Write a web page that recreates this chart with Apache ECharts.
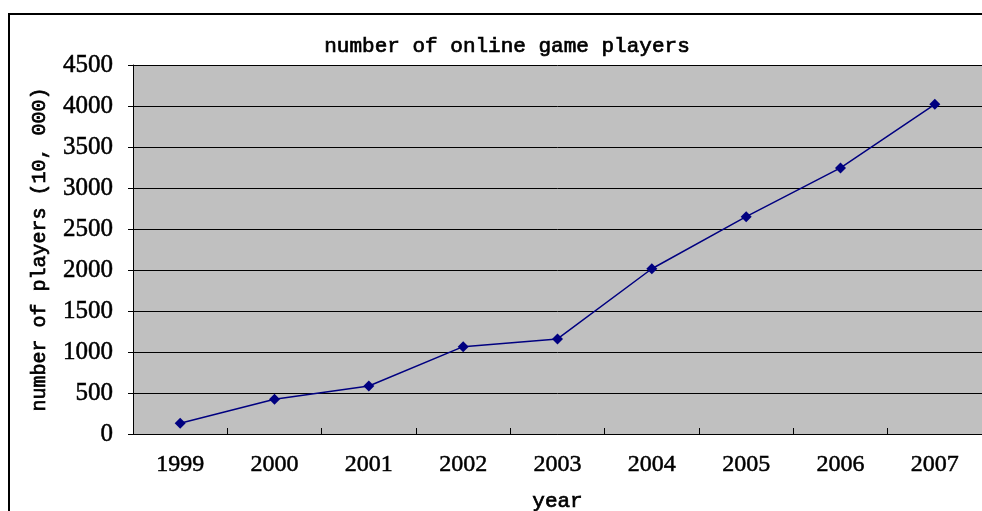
<!DOCTYPE html>
<html>
<head>
<meta charset="utf-8">
<script src="https://cdn.jsdelivr.net/npm/echarts@6/dist/echarts.min.js"></script>
<style>
  html, body { margin: 0; padding: 0; background: #ffffff; }
  #chart { width: 982px; height: 511px; }
</style>
</head>
<body>
<div id="chart"></div>
<script>
// Online game players in China, in units of 10,000 people
const years = ['1999', '2000', '2001', '2002', '2003', '2004', '2005', '2006', '2007'];
const players = [130, 425, 585, 1065, 1160, 2015, 2650, 3245, 4020];
const yTicks = { min: 0, max: 4500, step: 500 };

const chart = echarts.init(document.getElementById('chart'), null, { renderer: 'canvas' });

const monoFont = '"Liberation Mono", "DejaVu Sans Mono", monospace';
const digitFont = '"Liberation Serif", "DejaVu Serif", serif';

// slightly thickened text strokes
const monoText = {
  fontFamily: monoFont, fontWeight: 'normal', color: '#000',
  textBorderColor: '#000', textBorderWidth: 0.7
};
const digitText = {
  fontFamily: digitFont, color: '#000',
  textBorderColor: '#000', textBorderWidth: 0.5
};

chart.setOption({
  backgroundColor: '#ffffff',
  animation: false,
  title: {
    text: 'number of online game players',
    left: 502,
    top: 31,
    textAlign: 'center',
    textStyle: Object.assign({ fontSize: 21 }, monoText)
  },
  graphic: [
    {
      // outer frame around the chart
      type: 'rect',
      z: 100,
      shape: { x: 9, y: 14, width: 1000, height: 600 },
      style: { fill: 'none', stroke: '#000', lineWidth: 2 }
    }
  ],
  grid: {
    left: 133,
    right: 0,
    top: 65,
    bottom: 77,
    containLabel: false,
    outerBoundsMode: 'none',
    show: true,
    backgroundColor: '#C0C0C0',
    borderWidth: 0
  },
  xAxis: {
    type: 'category',
    data: years,
    boundaryGap: true,
    name: 'year',
    nameLocation: 'middle',
    nameGap: 57,
    nameMoveOverlap: false,
    nameTextStyle: Object.assign({ fontSize: 21 }, monoText),
    axisLine: { lineStyle: { color: '#000', width: 1 } },
    axisTick: { show: true, inside: true, length: 6, alignWithLabel: false, lineStyle: { color: '#000' } },
    axisLabel: Object.assign({ margin: 19, fontSize: 24 }, digitText),
    splitLine: { show: false }
  },
  yAxis: {
    type: 'value',
    min: yTicks.min,
    max: yTicks.max,
    interval: yTicks.step,
    name: 'number of players (10, 000)',
    nameLocation: 'middle',
    nameGap: 83,
    nameMoveOverlap: false,
    nameTextStyle: Object.assign({ fontSize: 20 }, monoText),
    axisLine: { show: true, lineStyle: { color: '#000', width: 1 } },
    axisTick: { show: true, inside: false, length: 5, lineStyle: { color: '#000' } },
    axisLabel: Object.assign({
      margin: 20,
      fontSize: 25,
      formatter: (v) => String(v)
    }, digitText),
    splitLine: { show: true, lineStyle: { color: '#000', width: 1 } }
  },
  series: [
    {
      type: 'line',
      data: players,
      symbol: 'diamond',
      symbolSize: 11,
      itemStyle: { color: '#000080' },
      lineStyle: { color: '#000080', width: 1.5 }
    }
  ]
});
</script>
</body>
</html>
